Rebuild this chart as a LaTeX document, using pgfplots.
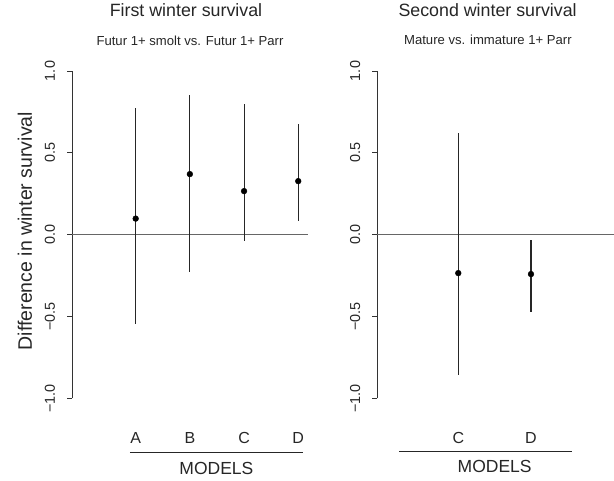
\documentclass[border=0pt]{standalone}
\usepackage{fontspec}
\setmainfont{Liberation Sans}
\usepackage{pgfplots}
\pgfplotsset{compat=1.18}
\usepackage{pgfplotstable}

\pgfplotstableread{
x y ep em
1 0.098 0.675 0.644
2 0.370 0.485 0.601
3 0.266 0.532 0.305
4 0.327 0.348 0.244
}\firstdata
\pgfplotstableread{
x y ep em
1 -0.235 0.855 0.624
2 -0.241 0.210 0.233
}\seconddata

\pgfplotsset{
  rstyle/.style={
    scale only axis, height=327.3pt, ymin=-1, ymax=1, clip=false,
    axis y line*=left, axis x line*=bottom,
    x axis line style={draw=none}, xtick style={draw=none},
    y axis line style={black!80, line width=1pt},
    ytick style={black!80, line width=1pt},
    ytick={-1,-0.5,0,0.5,1}, yticklabels={−1.0,−0.5,0.0,0.5,1.0},
    tick align=outside, major tick length=5pt,
    yticklabel style={rotate=90, anchor=base, inner sep=0pt, font=\fontsize{14.4}{16}\selectfont, text=black!85},
    xticklabel style={anchor=base, inner sep=0pt, font=\fontsize{16}{18}\selectfont, text=black!85},
    yticklabel shift=12pt, xticklabel shift=40pt,
    title style={anchor=base, font=\fontsize{17.8}{20}\selectfont, text=black!85},
    xlabel style={anchor=base, font=\fontsize{17.5}{20}\selectfont, text=black!85},
  },
  ci/.style={only marks, mark=*, mark size=2.9pt, black,
    error bars/.cd, y dir=both, y explicit, error mark=none,
    error bar style={line width=1.1pt, black!85}},
}

\begin{document}
\begin{tikzpicture}[x=1pt,y=1pt]
\useasboundingbox (0,0) rectangle (614,480);
\begin{axis}[rstyle,
  at={(72pt,81.7pt)}, anchor=south west, width=236pt,
  xmin=-0.175, xmax=4.18,
  xtick={1,2,3,4}, xticklabels={A,B,C,D},
  ylabel={Difference in winter survival},
  ylabel style={at={(axis description cs:-0.1695,0.511)}, anchor=base, font=\fontsize{19.5}{22}\selectfont, text=black!85},
  title={First winter survival},
  title style={at={(axis description cs:0.483,1.1476)}},
  xlabel={MODELS},
  xlabel style={at={(axis description cs:0.612,-0.2343)}},
]
\addplot[black!60, line width=1.1pt] coordinates {(-0.175,0) (4.18,0)};
\addplot[ci] table[x=x, y=y, y error plus=ep, y error minus=em] {\firstdata};
\draw[black!85, line width=1.1pt] (axis cs:0.895,-1.331) -- (axis cs:4.088,-1.331);
\node[anchor=base, font=\fontsize{13.1}{15}\selectfont, text=black!85] at (axis description cs:0.5,1.0794) {Futur 1+ smolt vs. Futur 1+ Parr};
\end{axis}
\begin{axis}[rstyle,
  at={(377pt,81.7pt)}, anchor=south west, width=237pt,
  xmin=-0.118, xmax=3.142,
  xtick={1,2}, xticklabels={C,D},
  title={Second winter survival},
  title style={at={(axis description cs:0.4667,1.1476)}},
  xlabel={MODELS},
  xlabel style={at={(axis description cs:0.4966,-0.2273)}},
]
\addplot[black!60, line width=1.1pt] coordinates {(-0.118,0) (3.142,0)};
\addplot[ci] table[x=x, y=y, y error plus=ep, y error minus=em] {\seconddata};
\draw[black!85, line width=1.1pt] (axis cs:0.185,-1.326) -- (axis cs:2.564,-1.326);
\node[anchor=base, font=\fontsize{13.1}{15}\selectfont, text=black!85] at (axis description cs:0.468,1.081) {Mature vs. immature 1+ Parr};
\end{axis}
\end{tikzpicture}
\end{document}
